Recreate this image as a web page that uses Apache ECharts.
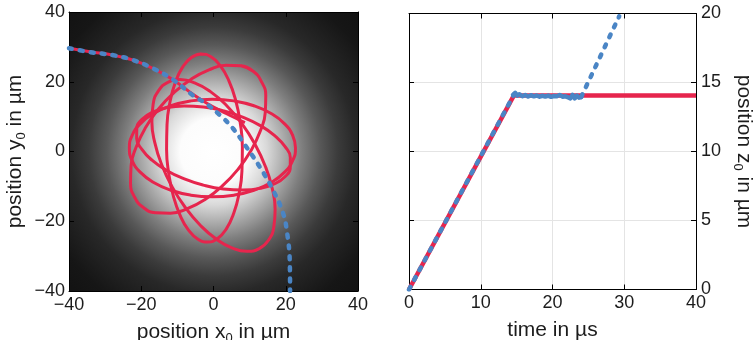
<!DOCTYPE html>
<html><head><meta charset="utf-8">
<script src="https://cdn.jsdelivr.net/npm/echarts@6/dist/echarts.min.js"></script>
<style>html,body{margin:0;padding:0;background:#fff;overflow:hidden}#c{width:753px;height:340px}</style>
</head><body><div id="c"></div>
<script>
// ---------- data ----------
const posTicks = [-40, -20, 0, 20, 40];
const timeTicks = [0, 10, 20, 30, 40];
const zTicks = [0, 5, 10, 15, 20];

// left panel: red trajectory loops (x0, y0 in µm)
const orbitA = [[-3.45,27.97],[-6.13,26.95],[-8.56,24.18],[-10.58,19.81],[-12.05,14.17],[-12.87,7.63],[-12.99,0.63],[-12.39,-6.33],[-11.11,-12.81],[-9.24,-18.33],[-6.92,-22.54],[-4.31,-25.15],[-1.55,-25.97],[1.13,-24.95],[3.56,-22.18],[5.58,-17.81],[7.05,-12.17],[7.87,-5.63],[7.99,1.37],[7.39,8.33],[6.11,14.81],[4.24,20.33],[1.92,24.54],[-0.69,27.15],[-3.45,27.97],[-6.13,26.95]];
const orbitB = [[11.0,23.0],[7.62,24.58],[3.43,24.7],[-1.27,23.39],[-6.17,20.73],[-10.95,16.88],[-15.28,12.12],[-18.85,6.78],[-21.43,1.21],[-22.83,-4.19],[-22.97,-9.08],[-21.84,-13.1],[-19.5,-16.0],[-16.12,-17.58],[-11.93,-17.7],[-7.23,-16.39],[-2.33,-13.73],[2.45,-9.88],[6.78,-5.12],[10.35,0.22],[12.93,5.79],[14.33,11.19],[14.47,16.08],[13.34,19.9],[11.0,23.0],[7.62,24.58]];
const orbitC = [[22.7,1.0],[21.92,4.63],[19.62,8.0],[15.96,10.9],[11.2,13.12],[5.66,14.52],[-0.3,15.0],[-6.26,14.52],[-11.8,13.12],[-16.56,10.9],[-20.22,8.0],[-22.52,4.63],[-23.3,1.0],[-22.52,-2.63],[-20.22,-6.0],[-16.56,-8.9],[-11.8,-11.12],[-6.26,-12.52],[-0.3,-13.0],[5.66,-12.52],[11.2,-11.12],[15.96,-8.9],[19.62,-6.0],[21.92,-2.63],[22.7,1.0],[21.92,4.63]];
const orbitD = [[21.25,-4.7],[21.27,-1.75],[19.82,1.38],[17.03,4.49],[13.1,7.36],[8.26,9.79],[2.85,11.63],[-2.76,12.75],[-8.16,13.06],[-13.01,12.55],[-16.98,11.24],[-19.79,9.25],[-21.25,6.7],[-21.27,3.75],[-19.82,0.62],[-17.03,-2.49],[-13.1,-5.36],[-8.26,-7.79],[-2.85,-9.63],[2.76,-10.75],[8.16,-11.06],[13.01,-10.55],[16.98,-9.24],[19.79,-7.25],[21.25,-4.7],[21.27,-1.75]];
const orbitE = [[12.66,-27.84],[15.21,-25.45],[16.71,-21.59],[17.06,-16.55],[16.27,-10.64],[14.37,-4.28],[11.48,2.1],[7.81,8.06],[3.61,13.2],[-0.84,17.17],[-5.23,19.69],[-9.25,20.61],[-12.66,19.84],[-15.21,17.45],[-16.71,13.59],[-17.06,8.55],[-16.27,2.64],[-14.37,-3.72],[-11.48,-10.1],[-7.81,-16.06],[-3.61,-21.2],[0.84,-25.17],[5.23,-27.69],[9.25,-28.61],[12.66,-27.84],[15.21,-25.45]];
const redIncoming = [[-40,29.6],[-34.2,28.6],[-27.7,27.6],[-22.2,26.2],[-16.7,23.8],[-11.2,20.6],[-5.7,16.4],[-1.5,13.6],[3.5,10.9],[8.7,8.3]];
// left panel: blue dotted trajectory
const blueArc = [[-40,29.6],[-34.2,28.5],[-27.7,27.6],[-22.2,26.2],[-16.7,23.8],[-11.2,20.6],[-5.7,16.1],[-1.9,13.6],[1.8,10.4],[5.4,6.6],[9.1,1.3],[12.8,-4.4],[16.5,-11.1],[19.3,-17.8],[20.4,-23.5],[21.1,-31.1],[21.2,-40]];

// right panel: z0 vs time (µs)
const redTime = [0, 14.6, 40];
const redZ    = [0, 14.05, 14.05];
const blueRiseTime = [0, 14.6];
const blueRiseZ    = [0, 14.1];
const bluePlateauTime = [14.5,14.8,15.1,15.4,15.8,16.2,16.6,17.0,17.4,17.8,18.2,18.6,19.0,19.4,19.8,20.2,20.6,21.0,21.4,21.8,22.2,22.5,22.8,23.1,23.4,23.7,24.0];
const bluePlateauZ    = [14.1,14.25,14.05,14.15,14.0,14.1,13.98,14.08,14.0,14.06,13.97,14.04,13.98,14.05,13.96,14.02,14.0,14.1,13.97,14.0,13.92,13.85,14.1,13.85,14.05,13.9,13.95];
const blueEscapeTime = [24.0, 29.3];
const blueEscapeZ    = [13.95, 19.8];

// ---------- chart ----------
const zip = (a, b) => a.map((v, i) => [v, b[i]]);
const FONT = '"Liberation Sans", Arial, Helvetica, sans-serif';
const TXT = '#1c1c1c';
const RED = '#e6254d';
const BLUE = '#4a85c5';
const fmt = v => String(v).replace('-', '\u2212');
const nameStyle = {
  fontFamily: FONT, fontSize: 21, color: TXT, lineHeight: 26,
  rich: { s: { fontFamily: FONT, fontSize: 13, lineHeight: 13, verticalAlign: 'bottom', color: TXT } }
};
const lbl = (m) => ({ fontFamily: FONT, fontSize: 18, color: TXT, margin: m, formatter: fmt });
const tick = { show: true, inside: true, length: 5, lineStyle: { color: '#000', width: 1 } };
const line = { show: true, onZero: false, lineStyle: { color: '#000', width: 1 } };
const split = { show: true, lineStyle: { color: '#e4e4e4', width: 1 } };
const noLbl = { show: false };
const bg = {
  type: 'radial', x: 0.5, y: 0.5, r: 0.75, global: false,
  colorStops: [
    { offset: 0, color: '#ffffff' },
    { offset: 0.16, color: '#fcfcfc' },
    { offset: 0.255, color: '#d9d9d9' },
    { offset: 0.34, color: '#ababab' },
    { offset: 0.425, color: '#7e7e7e' },
    { offset: 0.51, color: '#585858' },
    { offset: 0.595, color: '#3b3b3b' },
    { offset: 0.68, color: '#282828' },
    { offset: 0.85, color: '#161616' },
    { offset: 1, color: '#111111' }
  ]
};
const rng = (t) => ({ min: t[0], max: t[t.length - 1], interval: t[1] - t[0] });
const orbitSeries = (d) => ({
  type: 'line', xAxisIndex: 0, yAxisIndex: 0, data: d, smooth: 0.5, showSymbol: false, z: 2,
  lineStyle: { color: RED, width: 3 }, silent: true
});

const chart = echarts.init(document.getElementById('c'), null, { renderer: 'canvas' });
chart.setOption({
  animation: false,
  backgroundColor: '#fff',
  grid: [
    { left: 69, top: 12, width: 289, height: 279, show: true, backgroundColor: bg, borderWidth: 0,
      containLabel: false, outerBoundsMode: 'none' },
    { left: 409, top: 13.5, width: 287, height: 276, show: true, backgroundColor: '#fff', borderWidth: 0,
      containLabel: false, outerBoundsMode: 'none' }
  ],
  xAxis: [
    Object.assign({ gridIndex: 0, type: 'value', position: 'bottom', axisLine: line, axisTick: tick, splitLine: { show: false }, axisLabel: lbl(5),
      name: 'position x{s|0} in µm', nameLocation: 'middle', nameGap: 21, nameTextStyle: nameStyle }, rng(posTicks)),
    Object.assign({ gridIndex: 1, type: 'value', position: 'bottom', axisLine: line, axisTick: tick, splitLine: split, axisLabel: lbl(5),
      name: 'time in µs', nameLocation: 'middle', nameGap: 21, nameTextStyle: nameStyle }, rng(timeTicks)),
    Object.assign({ gridIndex: 1, type: 'value', position: 'top', axisLine: line, axisTick: tick, splitLine: { show: false }, axisLabel: noLbl }, rng(timeTicks)),
    Object.assign({ gridIndex: 0, type: 'value', position: 'top', axisLine: line, axisTick: tick, splitLine: { show: false }, axisLabel: noLbl }, rng(posTicks))
  ],
  yAxis: [
    Object.assign({ gridIndex: 0, type: 'value', position: 'left', axisLine: line, axisTick: tick, splitLine: { show: false }, axisLabel: lbl(4),
      name: 'position y{s|0} in µm', nameLocation: 'middle', nameGap: 41, nameRotate: 90, nameTextStyle: nameStyle }, rng(posTicks)),
    Object.assign({ gridIndex: 1, type: 'value', position: 'right', axisLine: line, axisTick: tick, splitLine: split, axisLabel: lbl(5),
      name: 'position z{s|0} in µm', nameLocation: 'middle', nameGap: 35, nameRotate: -90, nameTextStyle: nameStyle }, rng(zTicks)),
    Object.assign({ gridIndex: 1, type: 'value', position: 'left', axisLine: line, axisTick: tick, splitLine: { show: false }, axisLabel: noLbl }, rng(zTicks)),
    Object.assign({ gridIndex: 0, type: 'value', position: 'right', axisLine: line, axisTick: tick, splitLine: { show: false }, axisLabel: noLbl }, rng(posTicks))
  ],
  series: [
    orbitSeries(orbitA), orbitSeries(orbitB), orbitSeries(orbitC), orbitSeries(orbitD), orbitSeries(orbitE),
    { type: 'line', xAxisIndex: 0, yAxisIndex: 0, data: redIncoming, smooth: 0.4, showSymbol: false, z: 2,
      lineStyle: { color: RED, width: 3 }, silent: true },
    { type: 'line', xAxisIndex: 0, yAxisIndex: 0, data: blueArc, smooth: 0.4, showSymbol: false, z: 3,
      lineStyle: { color: BLUE, width: 4.5, type: [3, 8], cap: 'round' }, silent: true },

    { type: 'line', xAxisIndex: 1, yAxisIndex: 1, data: zip(redTime, redZ), showSymbol: false, z: 2,
      lineStyle: { color: RED, width: 4.5 }, silent: true },
    { type: 'line', xAxisIndex: 1, yAxisIndex: 1, data: zip(blueRiseTime, blueRiseZ), showSymbol: false, z: 3,
      lineStyle: { color: BLUE, width: 4.5, type: [3, 8], cap: 'round' }, silent: true },
    { type: 'line', xAxisIndex: 1, yAxisIndex: 1, data: zip(bluePlateauTime, bluePlateauZ), showSymbol: false, z: 3,
      lineStyle: { color: BLUE, width: 4.5, cap: 'round', join: 'round' }, silent: true },
    { type: 'line', xAxisIndex: 1, yAxisIndex: 1, data: zip(blueEscapeTime, blueEscapeZ), showSymbol: false, z: 3,
      lineStyle: { color: BLUE, width: 4.5, type: [3, 8], cap: 'round' }, silent: true }
  ]
});
</script>
</body></html>
